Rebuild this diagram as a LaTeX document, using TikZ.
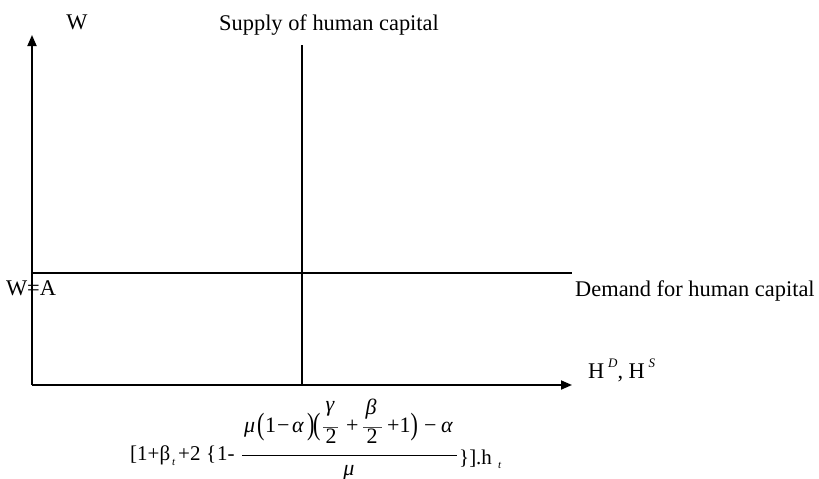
\documentclass[tikz,border=0pt]{standalone}
\usepackage{fontspec}
\usepackage{graphicx}
\setmainfont{Liberation Serif}
\usetikzlibrary{arrows.meta}
\newcommand{\tallpar}[1]{\raisebox{-0.12em}{\scalebox{1}[1.4]{#1}}}
\tikzset{
  lbl/.style={inner sep=0pt, font=\fontsize{22.4}{26}\selectfont},
  fml/.style={inner sep=0pt, font=\fontsize{21}{24}\selectfont},
  num/.style={inner sep=0pt, font=\fontsize{22}{25}\selectfont},
  subs/.style={inner sep=0pt, font=\fontsize{11}{12}\selectfont\itshape},
  axisline/.style={line width=1.8pt, -{Triangle[length=11pt,width=9pt]}},
  curveline/.style={line width=1.2pt},
  fracrule/.style={line width=0.8pt},
  smallrule/.style={line width=0.5pt, draw=black!70}
}
\begin{document}
\begin{tikzpicture}[x=1pt,y=-1pt]
\useasboundingbox (0,0) rectangle (819,479);
% axes
\coordinate (O) at (32,385);
\coordinate (ytip) at (32,35);
\coordinate (xtip) at (572,385);
\draw[axisline] (O) -- (ytip);
\draw[axisline] (O) -- (xtip);
% supply and demand
\coordinate (stop) at (302,45);
\coordinate (sbot) at (302,385);
\coordinate (dl) at (32,273);
\coordinate (dr) at (572,273);
\draw[curveline] (stop) -- (sbot);
\draw[curveline] (dl) -- (dr);
% labels
\node[lbl] (w) at (77,22) {W};
\node[lbl, anchor=base] (supply) at (329,30) {Supply of human capital};
\node[lbl, anchor=base] (wa) at (31,295) {W=A};
\node[lbl, anchor=base west] (demand) at (575,296) {Demand for human capital};
\node[lbl, anchor=base west] (hds) at (588,378) {H\,\raisebox{0.45em}{\fontsize{13}{14}\selectfont\itshape D}, H\,\raisebox{0.45em}{\fontsize{13}{14}\selectfont\itshape S}};
% formula: left part
\node[fml, anchor=base west] (f1) at (130,460) {[1+β};
\node[subs, anchor=base west] (f1t) at (172,465) {t};
\node[fml, anchor=base west] (f1b) at (178,460) {+2};
\node[fml, anchor=base west] (f1c) at (206,460) {\{};
\node[fml, anchor=base west] (f1d) at (217,460) {1-};
% main fraction rule
\coordinate (rl) at (242,455);
\coordinate (rr) at (457,455);
\draw[fracrule] (rl) -- (rr);
% right part
\node[fml, anchor=base west] (f2) at (459,464) {\}]};
\node[fml, anchor=base west] (f2b) at (476,464) {.h};
\node[subs, anchor=base west] (f2t) at (498,468) {t};
% numerator
\node[num, anchor=base west] (n1) at (244,432) {\itshape μ};
\node[num, anchor=base west] (n2) at (257,432) {\tallpar{(}};
\node[num, anchor=base west] (n3) at (265,432) {1};
\node[num, anchor=base west] (n4) at (277,432) {−};
\node[num, anchor=base west] (n5) at (292,432) {\itshape α};
\node[num, anchor=base west] (n6) at (307,432) {\tallpar{)}\kern-1.5pt\tallpar{(}};
\node[num, anchor=base] (g) at (330,411) {\itshape γ};
\coordinate (g1) at (323,427);
\coordinate (g2) at (338,427);
\draw[smallrule] (g1) -- (g2);
\node[num, anchor=base] (gd) at (331,443) {2};
\node[num, anchor=base west] (plus) at (346,432) {+};
\node[num, anchor=base] (b) at (371,414) {\itshape β};
\coordinate (b1) at (363,427);
\coordinate (b2) at (382,427);
\draw[smallrule] (b1) -- (b2);
\node[num, anchor=base] (bd) at (372,443) {2};
\node[num, anchor=base west] (n7) at (387,432) {+1\tallpar{)}};
\node[num, anchor=base west] (n8) at (424,432) {−};
\node[num, anchor=base west] (n9) at (441,432) {\itshape α};
% denominator
\node[num, anchor=base] (den) at (349,475) {\itshape μ};
\end{tikzpicture}
\end{document}
